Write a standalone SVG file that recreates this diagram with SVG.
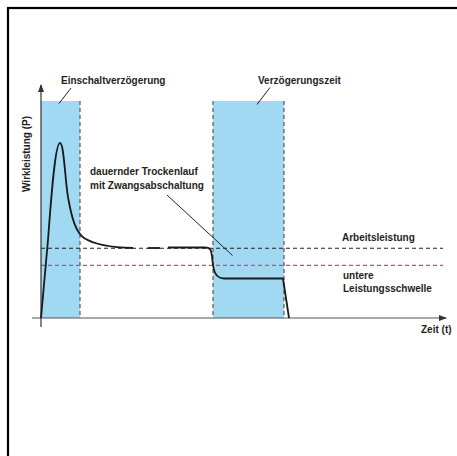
<svg xmlns="http://www.w3.org/2000/svg" width="457" height="456" viewBox="0 0 457 456">
<defs>
<style>
.t{font-family:"Liberation Sans",Arial,sans-serif;font-weight:bold;font-size:10px;fill:#231f20}
.zone{fill:#a2d9f2}
.edge{stroke:#555;stroke-width:1.2;stroke-dasharray:4,3;fill:none}
.ptr{stroke:#231f20;stroke-width:1;fill:none}
.curve{stroke:#1a1a1a;stroke-width:1.8;fill:none;stroke-linejoin:round}
</style>
<marker id="ah" viewBox="0 0 8 8" refX="7" refY="4" markerWidth="8" markerHeight="8" markerUnits="userSpaceOnUse" orient="auto">
<path d="M0,1 L8,4 L0,7 Z" fill="#333"/>
</marker>
</defs>
<rect width="457" height="456" fill="#fff"/>
<rect x="8" y="8" width="470" height="470" fill="none" stroke="#000" stroke-width="2.2"/>

<g id="zone-einschalt">
<rect class="zone" x="41" y="101" width="39" height="217"/>
<line class="edge" x1="80" y1="101" x2="80" y2="318"/>
</g>
<g id="zone-verzoegerung">
<rect class="zone" x="213" y="101" width="71" height="217"/>
<line class="edge" x1="213" y1="101" x2="213" y2="318"/>
<line class="edge" x1="284" y1="101" x2="284" y2="318"/>
</g>

<g id="thresholds">
<line x1="41" y1="248.3" x2="443" y2="248.3" stroke="#231f20" stroke-width="1.1" stroke-dasharray="4,3"/>
<line x1="41" y1="265.3" x2="443" y2="265.3" stroke="#e8435a" stroke-width="1.3" stroke-dasharray="4,3"/>
</g>

<g id="axes">
<line x1="32" y1="318" x2="446" y2="318" stroke="#555" stroke-width="1.2" marker-end="url(#ah)"/>
<line x1="41" y1="327" x2="41" y2="85" stroke="#333" stroke-width="1.2" marker-end="url(#ah)"/>
</g>

<g id="curve">
<path class="curve" d="M41,318 L48,240 C51,200 55,143 60,143 C64,143 65,180 68,197 C72,220 76,232 84,238 C95,245 110,247.5 133,248"/>
<path class="curve" d="M148,248 L160,248"/>
<path class="curve" d="M168,247.5 L205,247.5 C210,247.5 211,249 212,256 C213,268 214,278.5 224,278.5 L283,278.5 L289,318"/>
</g>

<g id="connectors">
<line class="ptr" x1="71" y1="88" x2="59" y2="103.5"/>
<line class="ptr" x1="270" y1="87.5" x2="257" y2="104.5"/>
<line class="ptr" x1="167" y1="195" x2="232.5" y2="255.5"/>
</g>

<g id="label-einschalt"><text class="t" x="61" y="84">Einschaltverzögerung</text></g>
<g id="label-verzoegerung"><text class="t" x="258" y="84">Verzögerungszeit</text></g>
<g id="label-y"><text class="t" transform="translate(29.5,192) rotate(-90)">Wirkleistung (P)</text></g>
<g id="label-trocken">
<text class="t" x="90" y="175">dauernder Trockenlauf</text>
<text class="t" x="90" y="188.5">mit Zwangsabschaltung</text>
</g>
<g id="label-arbeit"><text class="t" x="342" y="241">Arbeitsleistung</text></g>
<g id="label-untere">
<text class="t" x="343" y="278.5">untere</text>
<text class="t" x="343" y="291.5">Leistungsschwelle</text>
</g>
<g id="label-x"><text class="t" x="421" y="332.5">Zeit (t)</text></g>
</svg>
